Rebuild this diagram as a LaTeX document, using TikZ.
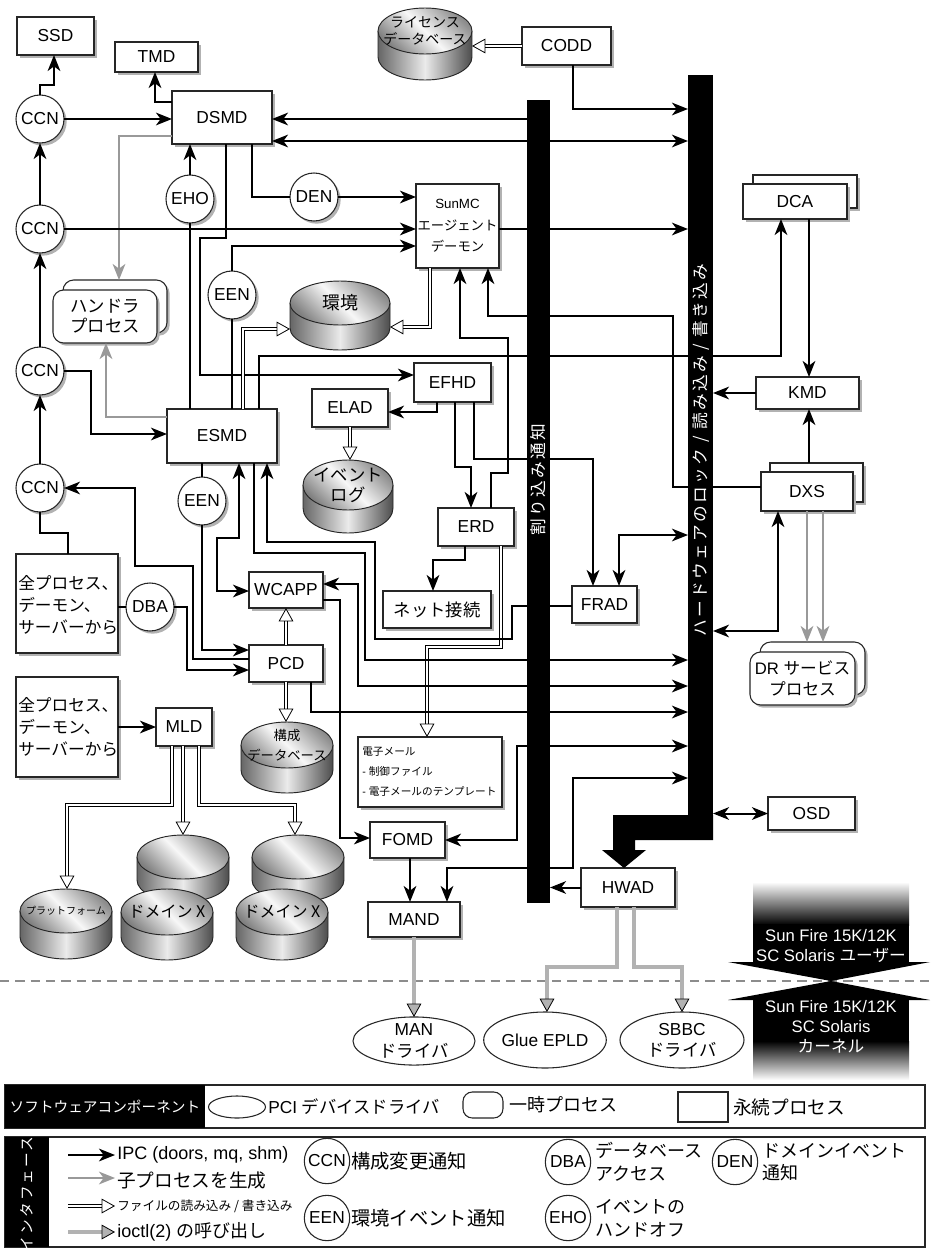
\documentclass[tikz,border=0pt]{standalone}
\usepackage{fontspec}
\setmainfont{Liberation Sans}
\newfontfamily\cjk{Noto Sans CJK JP}
\newfontfamily\cjkwide{Noto Sans CJK JP}[LetterSpace=14]
\usetikzlibrary{arrows.meta,shadows,shapes.geometric}
\newcommand\J[1]{{\cjk #1}}
\newcommand\fs[2]{\fontsize{#1}{#2}\selectfont}
% box: [style]{name}{x1}{y1}{x2}{y2}{text}
\newcommand\bx[7][]{\node[box,#1,minimum width={(#5-#3)*0.75pt},minimum height={(#6-#4)*0.75pt}] (#2) at ({(#3+#5)/2},{(#4+#6)/2}) {#7};}
% cylinder: {name}{cx}{cy}{rx}{ry}{h}{font}{text}
\newcommand\cyl[8]{%
  \shade[cylside] ({#2-#4},#3) -- ({#2-#4},{#3+#6}) arc[start angle=180,end angle=0,x radius=#4,y radius=#5] -- ({#2+#4},#3) -- cycle;
  \draw[cylline] ({#2-#4},#3) -- ({#2-#4},{#3+#6}) arc[start angle=180,end angle=0,x radius=#4,y radius=#5] -- ({#2+#4},#3);
  \shade[cyltop] (#2,#3) ellipse [x radius=#4, y radius=#5];
  \draw[cylline] (#2,#3) ellipse [x radius=#4, y radius=#5];
  \node[align=center,inner sep=0pt,font=#7] at (#2,#3) {#8};
  \node[inner sep=0pt,outer sep=0pt,minimum width={2*#4*0.75pt},minimum height={(2*#5+#6)*0.75pt}] (#1) at (#2,{#3+#6/2}) {};
}
\begin{document}
\begin{tikzpicture}[x=0.75pt,y=-0.75pt,
  >={Stealth[length=12pt,width=9.5pt,inset=3.5pt]},
  shd/.style={drop shadow={shadow xshift=2pt,shadow yshift=-2pt,fill=black!30,opacity=1}},
  box/.style={draw=black!85,line width=0.8pt,fill=white,inner sep=1pt,outer sep=0pt,align=center,shd,font=\fs{13}{15pt}},
  rbox/.style={rounded corners=8pt},
  circ/.style={circle,draw=black!85,line width=0.8pt,fill=white,inner sep=0pt,outer sep=0pt,minimum size=36pt,shd,font=\fs{13}{15pt}},
  lcirc/.style={circle,draw=black!85,line width=0.8pt,fill=white,inner sep=0pt,minimum size=34pt,font=\fs{13}{15pt}},
  drv/.style={ellipse,draw=black!85,line width=0.8pt,fill=white,inner sep=0pt,outer sep=0pt,align=center,font=\fs{13}{16pt}},
  ipcs/.style={line width=1.5pt},
  child/.style={draw=black!40,line width=1.5pt,->},
  fileio/.style={draw=black,line width=0.6pt,double=white,double distance=1.8pt,-{Triangle[length=10pt,width=11pt,fill=white,line width=0.6pt]}},
  ioctl/.style={draw=black,line width=0.6pt,double=black!30,double distance=2.4pt,-{Triangle[length=10pt,width=11pt,fill=black!30,line width=0.6pt]}},
  cylside/.style={left color=black!60,right color=black!70,middle color=black!8},
  cyltop/.style={left color=black!50,right color=black!45,middle color=black!3,shading angle=135},
  cylline/.style={draw=black!85,line width=0.7pt},
  ltext/.style={anchor=west,inner sep=0pt,align=left}
]
\useasboundingbox (0,0) rectangle (933,1250);
\fill[white] (0,0) rectangle (933,1250);

% dashed boundary
\draw[black!45,line width=1.2pt,dash pattern=on 7pt off 4.5pt] (0,981) -- (933,981);

% bars (placeholders, filled later)
\node[inner sep=0pt,outer sep=0pt,minimum width={23*0.75pt},minimum height={803*0.75pt}] (IBAR) at (538.5,501.5) {};
\node[inner sep=0pt,outer sep=0pt,minimum width={25*0.75pt},minimum height={765*0.75pt}] (HBAR) at (700.5,457.5) {};

% cylinders
\cyl{LIC}{425}{31}{47}{23}{26}{\fs{10.5}{12.5pt}}{\J{ライセンス}\\\J{データベース}}
\cyl{ENV}{340}{303}{50}{22}{25}{\fs{13.5}{15pt}}{\J{環境}}
\cyl{EVLOG}{348}{485}{45}{25}{23}{\fs{13}{15pt}}{\J{イベント}\\\J{ログ}}
\cyl{CONF}{287}{745}{46}{23}{25}{\fs{10}{15pt}}{\J{構成}\\\J{データベース}}
\cyl{PLAT}{66}{911}{46}{22}{26}{\fs{7.5}{9pt}}{\J{プラットフォーム}}
\cyl{DX1b}{183}{857}{46}{22}{23}{\fs{12}{14pt}}{}
\cyl{DX1}{167}{912}{46}{23}{25}{\fs{12}{14pt}}{\J{ドメイン X}}
\cyl{DX2b}{298}{857}{46}{22}{23}{\fs{12}{14pt}}{}
\cyl{DX2}{282}{912}{46}{23}{25}{\fs{12}{14pt}}{\J{ドメイン X}}

% boxes
\bx{SSD}{17}{17}{94}{55}{SSD}
\bx{TMD}{115}{42}{198}{72}{TMD}
\bx{DSMD}{172}{91}{272}{144}{DSMD}
\bx{CODD}{522}{27}{611}{65}{CODD}
\bx[font=\fs{10}{16pt}]{SUNMC}{416}{184}{499}{268}{SunMC\\\J{エージェント}\\\J{デーモン}}
\bx{DCAb}{753}{175}{857}{208}{}
\bx{DCA}{743}{184}{847}{219}{DCA}
\bx{KMD}{756}{377}{859}{409}{KMD}
\bx{DXSb}{770}{463}{863}{502}{}
\bx{DXS}{761}{472}{853}{511}{DXS}
\bx{EFHD}{414}{363}{491}{402}{EFHD}
\bx{ELAD}{312}{389}{388}{427}{ELAD}
\bx{ESMD}{167}{409}{277}{463}{ESMD}
\bx{ERD}{438}{508}{514}{546}{ERD}
\bx{NET}{383}{591}{491}{628}{\J{ネット接続}}
\bx{FRAD}{572}{586}{637}{623}{FRAD}
\bx{WCAPP}{249}{572}{323}{608}{WCAPP}
\bx{PCD}{249}{645}{323}{682}{PCD}
\bx{ALL1}{16}{554}{118}{653}{}
\node[ltext,font=\fs{12.5}{16.5pt}] (ALL1t) at (18,605) {\J{全プロセス、}\\\J{デーモン、}\\\J{サーバーから}};
\bx{ALL2}{16}{677}{118}{777}{}
\node[ltext,font=\fs{12.5}{16.5pt}] (ALL2t) at (18,727) {\J{全プロセス、}\\\J{デーモン、}\\\J{サーバーから}};
\bx{MLD}{156}{708}{212}{746}{MLD}
\bx{MAIL}{358}{737}{502}{807}{}
\node[ltext,font=\fs{8}{15pt}] (MAILt) at (362,772) {\J{電子メール}\\- \J{制御ファイル}\\- \J{電子メールのテンプレート}};
\bx{FOMD}{370}{822}{445}{858}{FOMD}
\bx{MAND}{368}{902}{460}{937}{MAND}
\bx{HWAD}{581}{868}{675}{907}{HWAD}
\bx{OSD}{768}{797}{855}{830}{OSD}
\bx[rbox]{HANDb}{63}{280}{167}{333}{}
\bx[rbox]{HAND}{53}{290}{157}{343}{\J{ハンドラ}\\\J{プロセス}}
\bx[rbox]{DRb}{760}{642}{865}{695}{}
\bx[rbox,font=\fs{12.5}{16pt}]{DR}{750}{652}{855}{705}{DR \J{サービス}\\\J{プロセス}}

% circles
\node[circ] (CCN1) at (40,119) {CCN};
\node[circ] (CCN2) at (40,229) {CCN};
\node[circ] (CCN3) at (40,371) {CCN};
\node[circ] (CCN4) at (40,488) {CCN};
\node[circ] (EHO) at (190,199) {EHO};
\node[circ] (DEN) at (314,197) {DEN};
\node[circ] (EEN1) at (232,295) {EEN};
\node[circ] (EEN2) at (202,501) {EEN};
\node[circ] (DBA) at (150,607) {DBA};

% drivers
\node[drv,minimum width={122*0.75pt},minimum height={48*0.75pt}] (MAN) at (414,1041) {MAN\\\J{ドライバ}};
\node[drv,minimum width={116*0.75pt},minimum height={56*0.75pt}] (GLUE) at (545,1040) {Glue EPLD};
\node[drv,minimum width={124*0.75pt},minimum height={56*0.75pt}] (SBBC) at (682,1040) {SBBC\\\J{ドライバ}};

% ---------- connectors ----------
\draw[ipcs,->] (CCN1.north) -- (40,85) -- (54,85) -- (SSD.south -| 54,0);
\draw[ipcs,->] (DSMD.west |- 0,102) -- (155,102) -- (TMD.south -| 155,0);
\draw[ipcs,->] (CCN1.east) -- (DSMD.west |- CCN1.east);
\draw[child] (DSMD.west |- 0,136) -- (119,136) -- (HANDb.north -| 119,0);
\draw[ipcs,->] (IBAR.west |- 0,119) -- (DSMD.east |- 0,119);
\draw[ipcs,<->] (DSMD.east |- 0,141) -- (HBAR.west |- 0,141);
\draw[fileio] (CODD.west) -- (LIC.east |- CODD.west);
\draw[ipcs,->] (CODD.south -| 573,0) -- (573,109) -- (HBAR.west |- 0,109);
\draw[ipcs,->] (EHO.north) -- (DSMD.south -| EHO.north);
\draw[ipcs] (ESMD.north -| EHO.south) -- (EHO.south);
\draw[ipcs] (DSMD.south -| 252,0) -- (252,197) -- (DEN.west);
\draw[ipcs,->] (DEN.east) -- (SUNMC.west |- DEN.east);
\draw[ipcs,->] (CCN2.east) -- (SUNMC.west |- CCN2.east);
\draw[ipcs,->] (EEN1.north) -- (232,246) -- (SUNMC.west |- 0,246);
\draw[ipcs] (ESMD.north -| EEN1.south) -- (EEN1.south);
\draw[ipcs,->] (SUNMC.east |- CCN2.east) -- (HBAR.west |- CCN2.east);
\draw[ipcs,->] (DSMD.south -| 226,0) -- (226,238) -- (200,238) -- (200,375) -- (EFHD.west |- 0,375);
\draw[ipcs,->] (CCN2.north) -- (CCN1.south);
\draw[ipcs,->] (CCN3.north) -- (CCN2.south);
\draw[ipcs,->] (CCN4.north) -- (CCN3.south);
\draw[ipcs,->] (CCN3.east) -- (91,371) -- (91,434) -- (ESMD.west |- 0,434);
\draw[child] (ESMD.west |- 0,417) -- (106,417) -- (HAND.south -| 106,0);
\draw[ipcs,->] (ESMD.north -| 259,0) -- (259,356) -- (781,356) -- (DCA.south -| 781,0);
\draw[fileio] (ESMD.north -| 243,0) -- (243,329) -- (ENV.west |- 0,329);
\draw[fileio] (SUNMC.south -| 430,0) -- (430,327) -- (ENV.east |- 0,327);
\draw[ipcs,->] (ERD.north -| 491,0) -- (491,473) -- (508,473) -- (508,338) -- (460,338) -- (SUNMC.south -| 460,0);
\draw[ipcs,->] (DXS.west |- 0,487) -- (673,487) -- (673,316) -- (488,316) -- (SUNMC.south -| 488,0);
\draw[ipcs,->] (DCA.south -| 809,0) -- (KMD.north -| 809,0);
\draw[ipcs,->] (KMD.west) -- (HBAR.east |- KMD.west);
\draw[ipcs,->] (DXSb.north -| 809,0) -- (KMD.south -| 809,0);
\draw[ipcs,->] (EFHD.south -| 437,0) -- (437,412) -- (ELAD.east |- 0,412);
\draw[fileio] (ELAD.south) -- (EVLOG.north -| ELAD.south);
\draw[ipcs,->] (EFHD.south -| 455,0) -- (455,467) -- (471,467) -- (ERD.north -| 471,0);
\draw[ipcs,->] (EFHD.south -| 474,0) -- (474,459) -- (593,459) -- (FRAD.north -| 593,0);
\draw[ipcs,<->] (FRAD.north -| 619,0) -- (619,535) -- (HBAR.west |- 0,535);
\draw[ipcs,<->] (DXS.south -| 778,0) -- (778,631) -- (HBAR.east |- 0,631);
\draw[child] (DXS.south -| 807,0) -- (DRb.north -| 807,0);
\draw[child] (DXS.south -| 823,0) -- (DRb.north -| 823,0);
\draw[ipcs,->] (ERD.south -| 465,0) -- (465,560) -- (433,560) -- (NET.north -| 433,0);
\draw[fileio] (ERD.south -| 501,0) -- (501,647) -- (427,647) -- (MAIL.north -| 427,0);
\draw[ipcs,->] (FRAD.west |- 0,606) -- (512,606) -- (512,639) -- (375,639) -- (375,542) -- (267,542) -- (ESMD.south -| 267,0);
\draw[ipcs,->] (ESMD.south -| 254,0) -- (254,553) -- (365,553) -- (365,660) -- (HBAR.west |- 0,660);
\draw[ipcs] (ESMD.south -| EEN2.north) -- (EEN2.north);
\draw[ipcs,->] (EEN2.south) -- (202,650) -- (PCD.west |- 0,650);
\draw[ipcs,<->] (ESMD.south -| 239,0) -- (239,538) -- (217,538) -- (217,591) -- (WCAPP.west |- 0,591);
\draw[ipcs,->] (PCD.west |- 0,659) -- (193,659) -- (193,566) -- (135,566) -- (135,488) -- (CCN4.east);
\draw[ipcs] (ALL1.north -| 68,0) -- (68,533) -- (40,533) -- (CCN4.south);
\draw[ipcs] (ALL1.east |- DBA.west) -- (DBA.west);
\draw[ipcs,->] (DBA.east) -- (187,607) -- (187,670) -- (PCD.west |- 0,670);
\draw[fileio] (PCD.north) -- (WCAPP.south);
\draw[fileio] (PCD.south) -- (CONF.north -| PCD.south);
\draw[ipcs,->] (PCD.south -| 311,0) -- (311,712) -- (HBAR.west |- 0,712);
\draw[ipcs,<->] (WCAPP.east |- 0,584) -- (358,584) -- (358,686) -- (HBAR.west |- 0,686);
\draw[ipcs,->] (WCAPP.east |- 0,600) -- (340,600) -- (340,838) -- (FOMD.west |- 0,838);
\draw[ipcs,<->] (HBAR.west |- 0,746) -- (517,746) -- (517,840) -- (FOMD.east |- 0,840);
\draw[ipcs,<->] (HBAR.west |- 0,778) -- (573,778) -- (573,868) -- (447,868) -- (MAND.north -| 447,0);
\draw[ipcs,->] (FOMD.south -| 410,0) -- (MAND.north -| 410,0);
\draw[ipcs,->] (ALL2.east |- MLD.west) -- (MLD.west);
\draw[fileio] (MLD.south -| 172,0) -- (172,805) -- (67,805) -- (PLAT.north -| 67,0);
\draw[fileio] (MLD.south -| 183,0) -- (DX1b.north -| 183,0);
\draw[fileio] (MLD.south -| 199,0) -- (199,805) -- (295,805) -- (DX2b.north -| 295,0);
\draw[ipcs,->] (HWAD.west) -- (IBAR.east |- HWAD.west);
\draw[ioctl] (HWAD.south -| 617,0) -- (617,967) -- (547,967) -- (GLUE.north -| 547,0);
\draw[ioctl] (HWAD.south -| 634,0) -- (634,967) -- (682,967) -- (SBBC.north -| 682,0);
\draw[ioctl] (MAND.south) -- (MAN.north);
\draw[ipcs,<->] (HBAR.east |- OSD.west) -- (OSD.west);

% ---------- bars ----------
\fill[black] (IBAR.north west) rectangle (IBAR.south east);
\node[rotate=90,text=white,inner sep=0pt,font=\fs{12.5}{14pt}\cjkwide] (IBARt) at (538.5,480) {割り込み通知};
\fill[black] (HBAR.north west) rectangle (HBAR.south east);
\fill[black] (713,815) -- (713,840) -- (635,840) -- (635,850) -- (646,850) -- (624,868) -- (602,850) -- (613,850) -- (613,815) -- cycle;
\node[rotate=90,text=white,inner sep=0pt,font=\fs{12.5}{14pt}\cjkwide] (HBARt) at (700.5,450) {ハードウェアのロック / 読み込み / 書き込み};

% ---------- Sun Fire user / kernel arrows ----------
\shade[top color=white,bottom color=black] (753,882) rectangle (909,925);
\fill[black] (753,924) rectangle (909,962);
\fill[black] (728,962) -- (930,962) -- (831,981) -- cycle;
\node[text=white,align=center,font=\fs{12.5}{15pt}] (USERt) at (831,946) {Sun Fire 15K/12K\\SC Solaris \J{ユーザー}};
\fill[black] (728,1000) -- (930,1000) -- (831,981) -- cycle;
\fill[black] (753,999) rectangle (909,1042);
\shade[top color=black,bottom color=white] (753,1041) rectangle (909,1080);
\node[text=white,align=center,font=\fs{12.5}{15pt}] (KERNt) at (831,1027) {Sun Fire 15K/12K\\SC Solaris\\\J{カーネル}};

% ---------- legend 1 ----------
\node[draw=black!85,line width=0.8pt,inner sep=0pt,minimum width={920*0.75pt},minimum height={43*0.75pt}] (LEG1) at (465,1106.5) {};
\node[fill=black,inner sep=0pt,minimum width={200*0.75pt},minimum height={43*0.75pt},text=white,font=\fs{11}{13pt}] (LEG1h) at (105,1106.5) {\J{ソフトウェアコンポーネント}};
\node[ellipse,draw=black!85,line width=0.8pt,inner sep=0pt,minimum width={57*0.75pt},minimum height={22*0.75pt}] (LPCI) at (237,1107) {};
\node[ltext,font=\fs{13}{15pt}] (LPCIt) at (268,1107) {PCI \J{デバイスドライバ}};
\node[draw=black!85,line width=0.8pt,rounded corners=7pt,inner sep=0pt,minimum width={40*0.75pt},minimum height={26*0.75pt}] (LTMP) at (483,1105) {};
\node[ltext,font=\fs{13.5}{15pt}] (LTMPt) at (509,1105) {\J{一時プロセス}};
\node[draw=black!85,line width=0.8pt,inner sep=0pt,minimum width={50*0.75pt},minimum height={30*0.75pt}] (LPERM) at (703,1107) {};
\node[ltext,font=\fs{14}{16pt}] (LPERMt) at (733,1107) {\J{永続プロセス}};

% ---------- legend 2 ----------
\node[draw=black!85,line width=0.8pt,inner sep=0pt,minimum width={920*0.75pt},minimum height={110*0.75pt}] (LEG2) at (465,1192) {};
\node[fill=black,inner sep=0pt,minimum width={44*0.75pt},minimum height={110*0.75pt}] (LEG2h) at (27,1192) {};
\node[rotate=90,text=white,inner sep=0pt,font=\fs{11}{13pt}\cjkwide] (LEG2t) at (27,1194) {インタフェース};
\coordinate (La1) at (68,1155); \coordinate (Lb1) at (115,1155);
\draw[ipcs,->] (La1) -- (Lb1);
\node[ltext,font=\fs{13.5}{15pt}] (Lt1) at (117,1155) {IPC (doors, mq, shm)};
\coordinate (La2) at (68,1178); \coordinate (Lb2) at (115,1178);
\draw[child] (La2) -- (Lb2);
\node[ltext,font=\fs{14}{17pt}] (Lt2) at (117,1180) {\J{子プロセスを生成}};
\coordinate (La3) at (68,1206); \coordinate (Lb3) at (115,1206);
\draw[fileio] (La3) -- (Lb3);
\node[ltext,font=\fs{9.5}{11pt}] (Lt3) at (117,1206) {\J{ファイルの読み込み / 書き込み}};
\coordinate (La4) at (68,1232); \coordinate (Lb4) at (115,1232);
\draw[ioctl] (La4) -- (Lb4);
\node[ltext,font=\fs{13.5}{16pt}] (Lt4) at (117,1232) {ioctl(2) \J{の呼び出し}};
\node[lcirc] (LCCN) at (327,1161) {CCN};
\node[ltext,font=\fs{14.5}{17pt}] (LCCNt) at (351,1161) {\J{構成変更通知}};
\node[lcirc] (LEEN) at (327,1218) {EEN};
\node[ltext,font=\fs{14.5}{17pt}] (LEENt) at (351,1218) {\J{環境イベント通知}};
\node[lcirc] (LDBA) at (568,1162) {DBA};
\node[ltext,font=\fs{13.5}{17pt}] (LDBAt) at (595,1162) {\J{データベース}\\\J{アクセス}};
\node[lcirc] (LDEN) at (735,1162) {DEN};
\node[ltext,font=\fs{13.5}{17pt}] (LDENt) at (762,1162) {\J{ドメインイベント}\\\J{通知}};
\node[lcirc] (LEHO) at (568,1218) {EHO};
\node[ltext,font=\fs{13.5}{17pt}] (LEHOt) at (595,1218) {\J{イベントの}\\\J{ハンドオフ}};
\end{tikzpicture}
\end{document}
